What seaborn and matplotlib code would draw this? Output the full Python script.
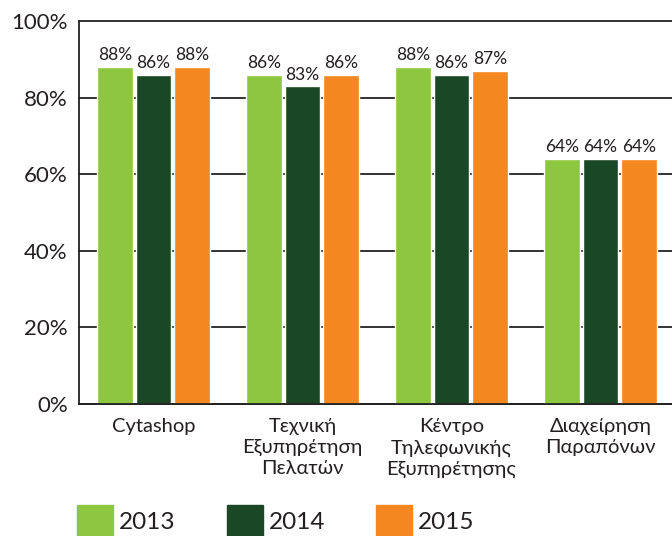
import matplotlib
matplotlib.use("Agg")
import matplotlib.pyplot as plt
import seaborn as sns
import pandas as pd

categorias = ["Cytashop", "Τεχνική\nΕξυπηρέτηση\nΠελατών",
              "Κέντρο\nΤηλεφωνικής\nΕξυπηρέτησης", "Διαχείρηση\nΠαραπόνων"]
anios = ["2013", "2014", "2015"]
valores_2013 = [88, 86, 88, 64]
valores_2014 = [86, 83, 86, 64]
valores_2015 = [88, 86, 87, 64]
colores = ["#8dc63f", "#1a4725", "#f58720"]

filas = []
for anio, vals in zip(anios, [valores_2013, valores_2014, valores_2015]):
    for cat, v in zip(categorias, vals):
        filas.append({"categoria": cat, "anio": anio, "valor": v})
df = pd.DataFrame(filas)

sns.set_style("white")
plt.rcParams['font.family'] = ['Lato', 'Noto Sans', 'DejaVu Sans']
texto = "#231f20"

fig = plt.figure(figsize=(6.72, 5.36), dpi=100)
ax = fig.add_axes([79 / 672, 1 - 404 / 536, 596 / 672, 383 / 536])

sns.barplot(data=df, x="categoria", y="valor", hue="anio", palette=colores,
            width=0.77, gap=0.06, ax=ax, legend=False, saturation=1)

for cont in ax.containers:
    ax.bar_label(cont, fmt="%d%%", padding=2.5, fontsize=12.5, color=texto)

ax.set_ylim(0, 100)
ax.set_xlim(-0.5, 3.5)
ax.set_yticks([0, 20, 40, 60, 80, 100])
ax.set_yticklabels([f"{t}%" for t in [0, 20, 40, 60, 80, 100]])
ax.set_axisbelow(True)
ax.yaxis.grid(True, color="#222222", linewidth=1.3)
for gl in ax.get_ygridlines():
    gl.set_clip_on(False)
ax.set_xlabel("")
ax.set_ylabel("")
ax.tick_params(axis="y", length=0, pad=8, labelsize=16, labelcolor=texto)
ax.tick_params(axis="x", length=0, pad=10, labelsize=14.5, labelcolor=texto)
for lbl in ax.get_xticklabels():
    lbl.set_linespacing(1.3)

for lado in ["top", "right"]:
    ax.spines[lado].set_visible(False)
for lado in ["left", "bottom"]:
    ax.spines[lado].set_color("#222222")
    ax.spines[lado].set_linewidth(1.3)

handles = [plt.Rectangle((0, 0), 1, 1, color=c) for c in colores]
fig.legend(handles, anios, loc="upper left", bbox_to_anchor=(77 / 672, 1 - 505 / 536),
           ncol=3, frameon=False, fontsize=17.5, handlelength=1.48, handleheight=1.65,
           handletextpad=0.25, columnspacing=2.1, borderpad=0, borderaxespad=0,
           labelcolor=texto)

fig.savefig("out.png", dpi=100)
